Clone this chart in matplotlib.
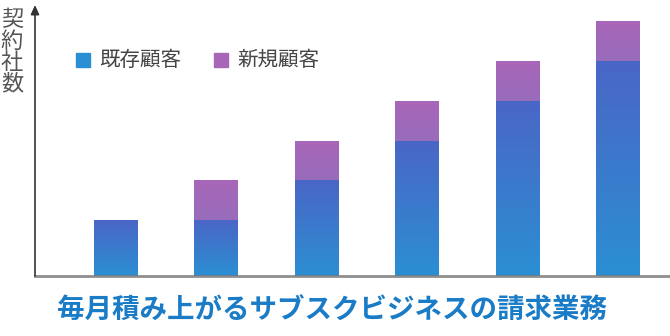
import numpy as np
import matplotlib
matplotlib.use("Agg")
import matplotlib.pyplot as plt
from matplotlib.colors import LinearSegmentedColormap

plt.rcParams['font.family'] = ['Noto Sans CJK JP', 'DejaVu Sans']

# データ（契約社数の目安）
periods = [1, 2, 3, 4, 5, 6]
existing = [56, 56, 96, 135, 175, 215]
new = [0, 40, 39, 40, 40, 40]
labels = ["既存顧客", "新規顧客"]
title = "毎月積み上がるサブスクビジネスの請求業務"

blue_cm = LinearSegmentedColormap.from_list("b", ["#2b8fd3", "#4a66c6"])
purple_cm = LinearSegmentedColormap.from_list("p", ["#986cbc", "#a866b8"])

fig = plt.figure(figsize=(6.7, 3.36), dpi=100)
ax = fig.add_axes([35 / 670, 60 / 336, 635 / 670, 271 / 336])

x = np.arange(len(periods))
w = 0.43
grad = np.linspace(0, 1, 256).reshape(-1, 1)

bars_e = ax.bar(x, existing, width=w, color="none")
bars_n = ax.bar(x, new, width=w, bottom=existing, color="none")

for bars, cm in [(bars_e, blue_cm), (bars_n, purple_cm)]:
    for b in bars:
        if b.get_height() <= 0:
            continue
        x0, y0 = b.get_x(), b.get_y()
        ax.imshow(grad, cmap=cm, origin="lower", aspect="auto",
                  extent=[x0, x0 + b.get_width(), y0, y0 + b.get_height()],
                  zorder=2)

ax.set_xlim(-0.802, 5.523)
ax.set_ylim(0, 271)

for s in ax.spines.values():
    s.set_visible(False)
ax.set_xticks([])
ax.set_yticks([])

# 軸
ax.axhline(0, color="#7a7a7a", lw=2, alpha=0.85, zorder=3, clip_on=False)
ax.annotate("", xy=(0, 1.0), xytext=(0, 0), xycoords="axes fraction",
            arrowprops=dict(arrowstyle="-|>,head_length=0.55,head_width=0.25",
                            color="#333333", lw=1.2, shrinkA=0, shrinkB=0))

# 縦軸ラベル
fig.text(12 / 670, 1 - 52 / 336, "契\n約\n社\n数", ha="center", va="center",
         fontsize=16, color="#555555", linespacing=0.92)

# 凡例
for px, c, t in [(76, "#2b8fd3", labels[0]), (214, "#a866b8", labels[1])]:
    fig.patches.append(plt.Rectangle((px / 670, 1 - 67 / 336), 14 / 670, 14 / 336,
                                     transform=fig.transFigure, color=c))
    fig.text((px + 23) / 670, 1 - 60 / 336, t, ha="left", va="center",
             fontsize=14.8, color="#444444")

fig.text(332 / 670, 1 - 311 / 336, title, ha="center", va="center",
         fontsize=19.8, fontweight="bold", color="#1a7cc6")

fig.savefig("out.png", dpi=100)
